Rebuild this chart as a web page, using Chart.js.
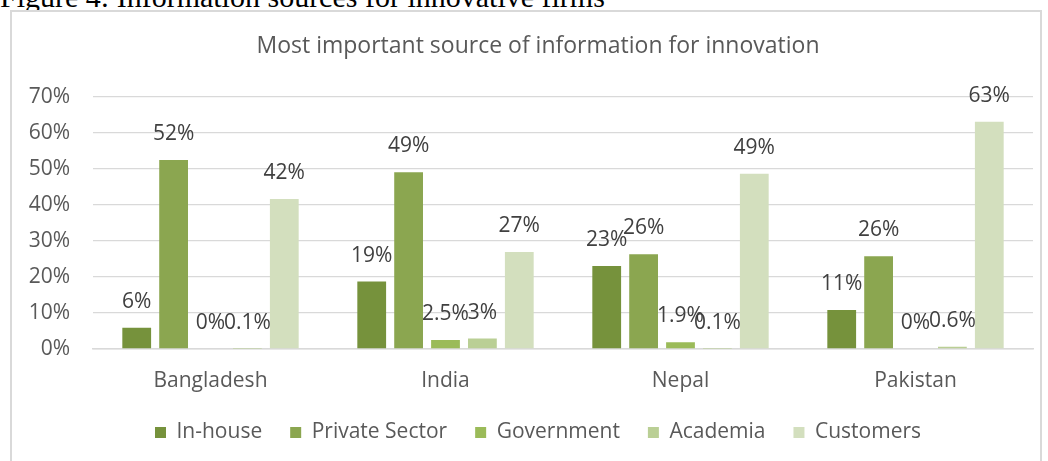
<!DOCTYPE html>
<html>
<head>
<meta charset="utf-8">
<script src="https://cdn.jsdelivr.net/npm/chart.js@4"></script>
<style>
    body { margin: 0; background: #fff; width: 1048px; height: 461px; overflow: hidden; position: relative; }
    #caption {
        position: absolute; left: 0; top: -18px;
        font-family: "Liberation Serif", serif; font-size: 30px; line-height: 30px;
        color: #000; white-space: nowrap;
    }
    #frame {
        position: absolute; left: 10px; top: 10px; width: 1028px; height: 470px;
        border: 2px solid #d9d9d9; background: #fff;
    }
    #chart { position: absolute; left: 0; top: 0; }
</style>
</head>
<body>

<div id="caption">Figure 4: Information sources for innovative firms</div>
<div id="frame"></div>
<canvas id="chart" width="1048" height="461"></canvas>

<script>

    /* ===============================
       داده‌ها
    =============================== */

    const countries = ["Bangladesh", "India", "Nepal", "Pakistan"];

    const inHouse       = [5.9, 18.7, 23.0, 10.8];
    const privateSector = [52.4, 49.0, 26.3, 25.7];
    const government    = [0, 2.5, 1.9, 0];
    const academia      = [0.1, 2.9, 0.1, 0.6];
    const customers     = [41.6, 26.9, 48.6, 63.0];

    // برچسب‌های بالای ستون‌ها
    const inHouseLabels       = ["6%", "19%", "23%", "11%"];
    const privateSectorLabels = ["52%", "49%", "26%", "26%"];
    const governmentLabels    = ["0%", "2.5%", "1.9%", "0%"];
    const academiaLabels      = ["0.1%", "3%", "0.1%", "0.6%"];
    const customersLabels     = ["42%", "27%", "49%", "63%"];

    const yTicks = [0, 10, 20, 30, 40, 50, 60, 70];

    const textColor = "#595959";
    const labelFont = { family: "'Open Sans', sans-serif", size: 21 };


    /* ===============================
       پلاگین برچسب مقدار
    =============================== */

    const valueLabels = {
        id: "valueLabels",
        afterDatasetsDraw(chart) {
            const ctx = chart.ctx;
            ctx.save();
            ctx.font = "21px 'Open Sans', sans-serif";
            ctx.fillStyle = "#404040";
            ctx.textAlign = "center";
            ctx.textBaseline = "middle";
            chart.data.datasets.forEach((ds, i) => {
                chart.getDatasetMeta(i).data.forEach((bar, j) => {
                    ctx.fillText(ds.valueLabels[j], bar.x, bar.y - 26);
                });
            });
            ctx.restore();
        }
    };


    /* ===============================
       چارت
    =============================== */

    const ctx = document.getElementById("chart").getContext("2d");

    new Chart(ctx, {

        type: "bar",

        data: {
            labels: countries,
            datasets: [
                { label: "In-house",       data: inHouse,       valueLabels: inHouseLabels,       backgroundColor: "#76923c" },
                { label: "Private Sector", data: privateSector, valueLabels: privateSectorLabels, backgroundColor: "#8ba650" },
                { label: "Government",     data: government,    valueLabels: governmentLabels,    backgroundColor: "#9bbb59" },
                { label: "Academia",       data: academia,      valueLabels: academiaLabels,      backgroundColor: "#bacf95" },
                { label: "Customers",      data: customers,     valueLabels: customersLabels,     backgroundColor: "#d3dfbe" }
            ]
        },

        options: {
            responsive: false,
            animation: false,
            datasets: {
                bar: { categoryPercentage: 0.785, barPercentage: 0.78 }
            },
            layout: {
                padding: { left: 43, right: 15, top: 10, bottom: 8 }
            },
            plugins: {
                title: {
                    display: true,
                    text: "Most important source of information for innovation",
                    color: textColor,
                    font: { family: "'Open Sans', sans-serif", size: 23, weight: "normal" },
                    padding: { top: 23, bottom: 36 }
                },
                legend: {
                    position: "bottom",
                    labels: {
                        color: textColor,
                        font: labelFont,
                        boxWidth: 11,
                        boxHeight: 11,
                        padding: 28
                    }
                },
                tooltip: { enabled: false }
            },
            scales: {
                y: {
                    min: 0,
                    max: 70,
                    afterBuildTicks: axis => { axis.ticks = yTicks.map(v => ({ value: v })); },
                    afterFit: axis => {
                        axis.width = 50;
                        // برچسب‌ها از کادر محور بیرون می‌زنند، برش نخورند
                        axis._computeLabelArea = () => null;
                    },
                    ticks: {
                        color: textColor,
                        font: labelFont,
                        padding: 23,
                        callback: v => v + "%"
                    },
                    grid: { color: "#d9d9d9", lineWidth: 1.3, drawTicks: false },
                    border: { display: false }
                },
                x: {
                    afterFit: axis => { axis.height = 45; },
                    ticks: { color: textColor, font: labelFont, padding: 19 },
                    grid: { display: false, drawTicks: false },
                    border: { color: "#d9d9d9", width: 1.5 }
                }
            }
        },

        plugins: [valueLabels]

    });

</script>
</body>
</html>
